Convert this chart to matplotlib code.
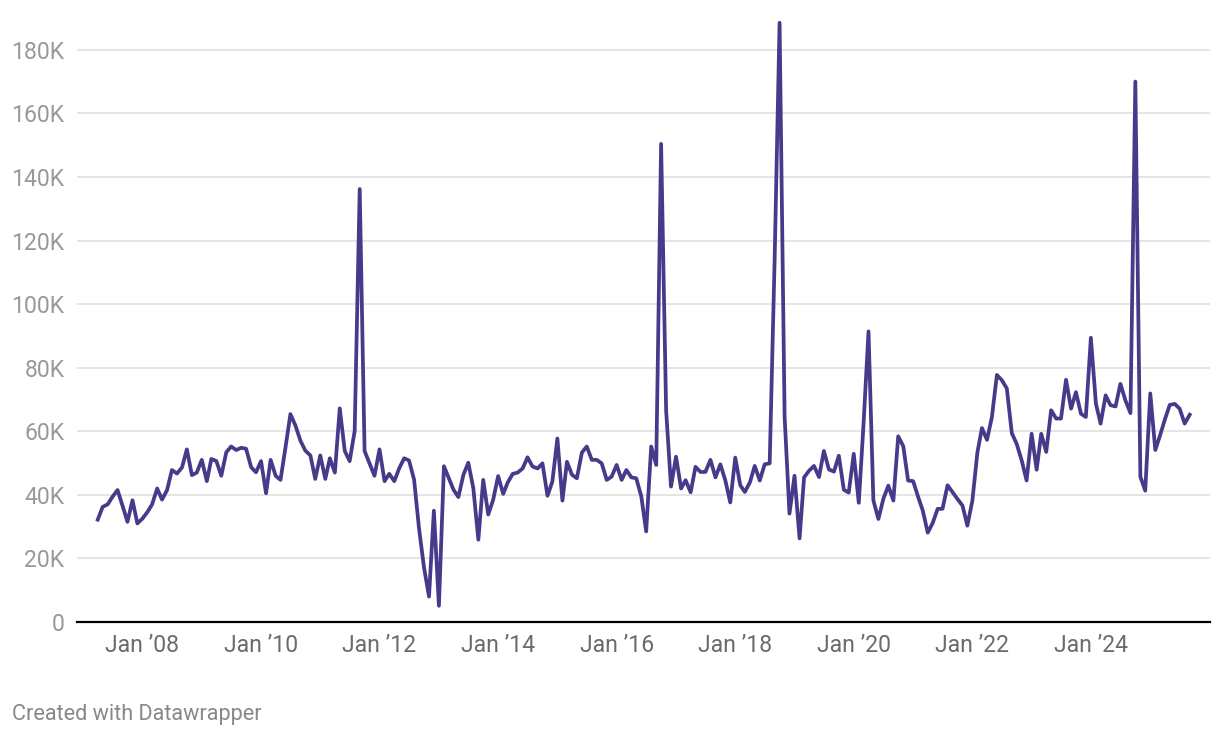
import numpy as np
import pandas as pd
import matplotlib
matplotlib.use("Agg")
import matplotlib.pyplot as plt

# Monthly values (thousands), Apr 2007 onwards
values_k = [
    32.2, 36.2, 37.0, 39.4, 41.5, 36.5, 31.5, 38.3, 31.0, 32.5, 34.6, 37.0,
    42.0, 38.5, 41.5, 47.8, 46.7, 48.6, 54.3, 46.2, 47.0, 51.0, 44.3, 51.3,
    50.6, 46.0, 53.4, 55.2, 54.1, 54.8, 54.5, 48.7, 47.1, 50.6, 40.5, 51.0,
    46.0, 44.7, 55.0, 65.4, 61.8, 57.0, 53.9, 52.4, 45.0, 52.4, 45.0, 51.5,
    47.0, 67.2, 53.8, 50.6, 60.1, 136.2, 53.8, 49.8, 46.0, 54.3, 44.3, 46.6,
    44.3, 48.3, 51.5, 50.8, 44.8, 29.2, 17.2, 8.0, 35.0, 5.1, 49.0, 45.5,
    41.6, 39.3, 46.3, 50.1, 42.1, 25.9, 44.7, 33.8, 38.4, 45.9, 40.3, 43.9,
    46.6, 47.0, 48.3, 51.8, 48.9, 48.3, 49.9, 39.7, 44.2, 57.7, 38.2, 50.4,
    46.3, 45.2, 53.3, 55.2, 51.0, 51.0, 49.9, 44.7, 45.7, 49.4, 44.7, 47.8,
    45.5, 45.2, 39.5, 28.5, 55.2, 49.4, 150.4, 66.5, 42.6, 52.0, 42.0, 44.6,
    40.8, 48.8, 47.2, 47.2, 51.0, 45.5, 49.6, 44.5, 37.6, 51.7, 43.0, 40.9,
    43.9, 49.1, 44.5, 49.6, 49.9, 115.0, 188.5, 64.6, 34.1, 46.0, 26.3, 45.5,
    47.6, 49.1, 45.6, 53.8, 48.0, 47.3, 52.3, 41.6, 40.7, 52.9, 37.5, 62.0,
    91.4, 38.2, 32.4, 38.7, 42.9, 38.2, 58.4, 55.3, 44.5, 44.3, 39.3, 35.1,
    28.1, 31.1, 35.6, 35.6, 43.0, 40.8, 38.7, 36.6, 30.3, 38.2, 53.4, 61.0,
    57.3, 64.4, 77.7, 76.1, 73.5, 59.4, 56.0, 50.8, 44.5, 59.2, 47.9, 59.2,
    53.5, 66.6, 64.0, 64.0, 76.2, 67.1, 72.3, 65.5, 64.5, 89.4, 68.7, 62.4,
    71.3, 68.2, 67.8, 74.9, 69.7, 65.7, 170.0, 45.7, 41.3, 71.9, 54.1, 58.5,
    63.7, 68.3, 68.6, 67.1, 62.4, 65.2,
]
months = pd.date_range("2007-04-01", periods=len(values_k), freq="MS")
values = np.array(values_k) * 1000

ytick_vals = list(range(0, 200000, 20000))
ytick_labels = ["0", "20K", "40K", "60K", "80K", "100K", "120K", "140K", "160K", "180K"]
xtick_years = list(range(2008, 2025, 2))
xtick_labels = ["Jan \u2019%02d" % (y % 100) for y in xtick_years]

plt.rcParams["font.family"] = ["Roboto", "DejaVu Sans"]

fig = plt.figure(figsize=(12.2, 7.38), dpi=100)
ax = fig.add_axes([0.0631, 0.1572, 0.9287, 0.8184])

ax.plot(months, values, color="#463a8a", lw=2.7)

ax.set_ylim(0, 190000)
ax.set_xlim(pd.Timestamp("2006-11-24"), pd.Timestamp("2026-01-04"))

ax.set_yticks(ytick_vals)
ax.set_yticklabels(ytick_labels)
ax.set_xticks([pd.Timestamp("%d-01-01" % y) for y in xtick_years])
ax.set_xticklabels(xtick_labels)

ax.grid(axis="y", color="#e5e5e5", lw=1.4)
ax.set_axisbelow(True)
for s in ["top", "right", "left"]:
    ax.spines[s].set_visible(False)
ax.spines["bottom"].set_color("black")
ax.spines["bottom"].set_linewidth(1.6)

ax.tick_params(axis="both", length=0, labelsize=16.6)
ax.tick_params(axis="y", colors="#999999", pad=9)
ax.tick_params(axis="x", colors="#6b6b6b", pad=9)

fig.text(0.0098, 0.032, "Created with Datawrapper", fontsize=15.6, color="#888888",
         ha="left", va="center")

fig.savefig("out.png", dpi=100)
